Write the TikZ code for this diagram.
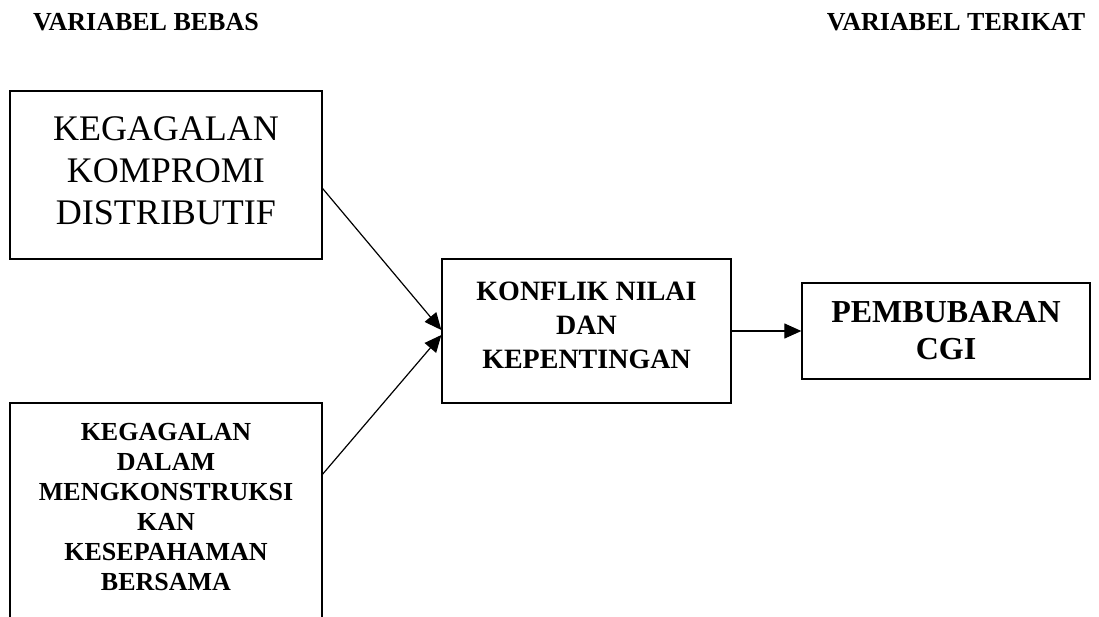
\documentclass[tikz,border=0pt]{standalone}
\usepackage{fontspec}
\setmainfont{Liberation Serif}
\usetikzlibrary{arrows.meta,calc}
\tikzset{>={Triangle[length=17pt,width=15pt]}}
\tikzset{varbox/.style={draw,line width=1.3pt,align=center,inner sep=0pt}}
\tikzset{varhead/.style={font=\fontsize{26}{30}\selectfont\bfseries,anchor=base}}

\begin{document}
\begin{tikzpicture}[x=1pt,y=-1pt,line width=1.2pt]
  \useasboundingbox (0,0) rectangle (1099,616);
  % headers
  \node[varhead] (bebas) at (146,30) {VARIABEL BEBAS};
  \node[varhead] (terikat) at (956,30) {VARIABEL TERIKAT};
  % boxes
  \node[varbox,minimum width=312pt,minimum height=168pt,font=\fontsize{36}{42}\selectfont] (kompromi) at (166,175) {KEGAGALAN\\KOMPROMI\\DISTRIBUTIF\\[-34pt]\mbox{}};
  \node[varbox,minimum width=312pt,minimum height=238pt,font=\fontsize{26}{30}\selectfont\bfseries] (kesepahaman) at (166,522) {KEGAGALAN\\DALAM\\MENGKONSTRUKSI\\KAN\\KESEPAHAMAN\\BERSAMA\\ \mbox{}};
  \node[varbox,minimum width=289pt,minimum height=144pt,font=\fontsize{28}{34}\selectfont\bfseries] (konflik) at (586.5,331) {KONFLIK NILAI\\DAN\\KEPENTINGAN\\[-22pt]\mbox{}};
  \node[varbox,minimum width=288pt,minimum height=96pt,font=\fontsize{32}{37}\selectfont\bfseries] (pembubaran) at (946,331) {PEMBUBARAN\\CGI};
  % arrows
  \draw[->] ($(kompromi.north east)!0.58!(kompromi.south east)$) -- ([yshift=1pt]konflik.west);
  \draw[->] ($(kesepahaman.north east)!0.3!(kesepahaman.south east)$) -- ([yshift=-4pt]konflik.west);
  \draw[->] (konflik) -- (pembubaran);
\end{tikzpicture}
\end{document}
